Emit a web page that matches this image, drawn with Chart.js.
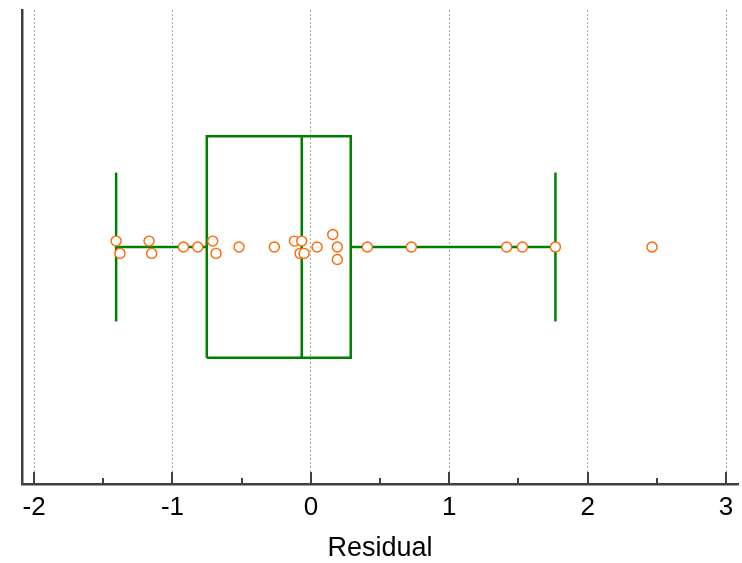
<!DOCTYPE html>
<html>
<head>
<meta charset="utf-8">
<script src="https://cdn.jsdelivr.net/npm/chart.js@4"></script>
<style>
  body { margin: 0; background: #fff; }
</style>
</head>
<body>
<canvas id="residuals" width="742" height="563"></canvas>
<script>
// residual values and their small vertical jitter (to separate overlapping points)
var residuals = [-1.407, -1.379, -1.169, -1.150, -0.921, -0.817, -0.709, -0.685,
                 -0.519, -0.264, -0.119, -0.066, -0.078, -0.049, 0.045, 0.158,
                 0.191, 0.191, 0.408, 0.726, 1.415, 1.528, 1.767, 2.465];
var jitter = [0.025, -0.027, 0.025, -0.027, 0, 0, 0.025, -0.027,
              0, 0, 0.025, 0.025, -0.027, -0.027, 0, 0.053,
              0, -0.053, 0, 0, 0, 0, 0, 0];

// box plot summary
var q1 = -0.752;
var median = -0.066;
var q3 = 0.288;
var whiskerLow = -1.407;
var whiskerHigh = 1.767;

var tickValues = [-2, -1.5, -1, -0.5, 0, 0.5, 1, 1.5, 2, 2.5, 3];

const boxHalf = 0.467;
const capHalf = 0.314;
const green = '#008000';
const axisColor = '#404040';
const fontFamily = "'Liberation Sans', Arial, sans-serif";

const points = residuals.map(function(r, i) {
  return {x: r, y: jitter[i]};
});

function segment(label, pts) {
  return {
    label: label,
    data: pts,
    showLine: true,
    borderColor: green,
    borderWidth: 2.5,
    pointRadius: 0,
    fill: false,
    order: 1,
  };
}

// inward tick marks on the bottom axis, long at integers and short at halves
const innerTicks = {
  id: 'innerTicks',
  afterDraw(chart) {
    const ctx = chart.ctx;
    const x = chart.scales.x;
    const bottom = chart.chartArea.bottom;
    ctx.save();
    ctx.strokeStyle = axisColor;
    ctx.lineWidth = 2;
    tickValues.forEach(function(v) {
      const px = Math.round(x.getPixelForValue(v));
      const len = Number.isInteger(v) ? 12 : 6;
      ctx.beginPath();
      ctx.moveTo(px, bottom);
      ctx.lineTo(px, bottom - len);
      ctx.stroke();
    });
    ctx.restore();
  }
};

const residualChart = document.getElementById('residuals');

const residualConfig = {
  type: 'scatter',
  data: {
    datasets: [
      {
        label: 'Residuals',
        data: points,
        pointRadius: 5,
        pointBorderWidth: 1.4,
        pointBorderColor: '#ff6600',
        pointBackgroundColor: '#ffffff',
        order: 0,
      },
      segment('Box', [
        {x: q1, y: -boxHalf}, {x: q3, y: -boxHalf}, {x: q3, y: boxHalf},
        {x: q1, y: boxHalf}, {x: q1, y: -boxHalf}
      ]),
      segment('Median', [{x: median, y: -boxHalf}, {x: median, y: boxHalf}]),
      segment('Lower whisker', [{x: whiskerLow, y: 0}, {x: q1, y: 0}]),
      segment('Upper whisker', [{x: q3, y: 0}, {x: whiskerHigh, y: 0}]),
      segment('Lower cap', [{x: whiskerLow, y: -capHalf}, {x: whiskerLow, y: capHalf}]),
      segment('Upper cap', [{x: whiskerHigh, y: -capHalf}, {x: whiskerHigh, y: capHalf}]),
    ]
  },
  options: {
    responsive: false,
    animation: false,
    layout: {
      autoPadding: false,
      padding: {top: 10, left: 22, right: 4, bottom: 0}
    },
    plugins: {
      legend: {display: false},
      tooltip: {enabled: false},
    },
    scales: {
      x: {
        type: 'linear',
        min: -2.087,
        max: 3.086,
        ticks: {
          stepSize: 1,
          includeBounds: false,
          padding: 0,
          color: '#000',
          // tall line height pushes the labels down from the axis
          font: {family: fontFamily, size: 26, lineHeight: 1.85},
        },
        grid: {
          color: '#a8a8a8',
          lineWidth: 1,
          drawTicks: false,
        },
        border: {
          color: axisColor,
          width: 2.5,
          dash: [2, 2],
        },
        title: {
          display: true,
          text: 'Residual',
          color: '#000',
          padding: {top: 4, bottom: 0},
          font: {family: fontFamily, size: 27, lineHeight: 1.05},
        },
        afterFit: function(scale) {
          scale.height = 79;
          scale.paddingLeft = 0;
          scale.paddingRight = 0;
        }
      },
      y: {
        type: 'linear',
        min: -1,
        max: 1,
        ticks: {display: false},
        grid: {display: false, drawTicks: false},
        border: {
          color: axisColor,
          width: 2.5,
        },
        afterFit: function(scale) {
          scale.width = 0;
        }
      }
    }
  },
  plugins: [innerTicks]
};

new Chart(residualChart, residualConfig);
</script>
</body>
</html>
